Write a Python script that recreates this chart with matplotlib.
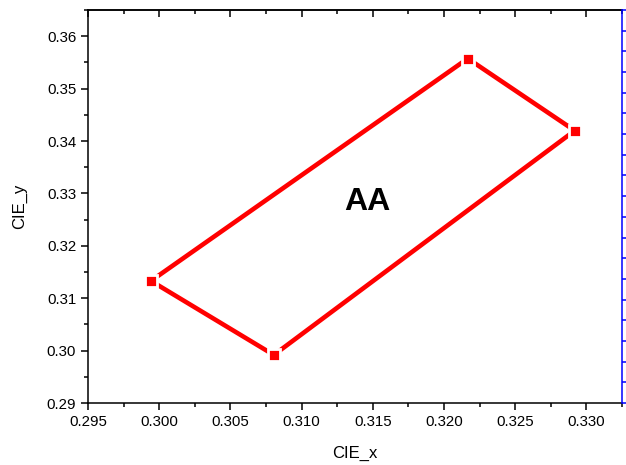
import matplotlib
matplotlib.use("Agg")
import matplotlib.pyplot as plt
from matplotlib.ticker import MultipleLocator, NullFormatter

plt.rcParams["font.family"] = ["Liberation Sans", "DejaVu Sans"]

# corner points of the colour gamut, closed polygon
cie_x = [0.29942, 0.30805, 0.32918, 0.32167, 0.29942]
cie_y = [0.3133, 0.29917, 0.34198, 0.35574, 0.3133]
label = "AA"
label_pos = (0.31465, 0.3284)
right_ticks = list(range(20))

fig = plt.figure(figsize=(6.26, 4.65), dpi=100)
ax = fig.add_axes([0.1406, 0.1333, 0.853, 0.8452])

ax.plot(cie_x, cie_y, color="red", lw=3.3, solid_capstyle="butt", zorder=2)
ax.plot(cie_x[:-1], cie_y[:-1], ls="none", marker="s", ms=9, mfc="red",
        mec="white", mew=2, zorder=3)
ax.text(*label_pos, label, fontsize=23, fontweight="bold", ha="center",
        va="center")

ax.set_xlim(0.295, 0.3325)
ax.set_ylim(0.29, 0.365)
ax.xaxis.set_major_locator(MultipleLocator(0.005))
ax.xaxis.set_minor_locator(MultipleLocator(0.0025))
ax.yaxis.set_major_locator(MultipleLocator(0.01))
ax.yaxis.set_minor_locator(MultipleLocator(0.005))
ax.xaxis.set_major_formatter(plt.FormatStrFormatter("%.3f"))
ax.yaxis.set_major_formatter(plt.FormatStrFormatter("%.2f"))
ax.tick_params(which="major", direction="out", length=5, width=1.1,
               labelsize=10.8)
ax.tick_params(which="minor", direction="out", length=3, width=1.1)
ax.set_xlabel("CIE_x", fontsize=12, labelpad=12)
ax.set_ylabel("CIE_y", fontsize=12, labelpad=14)
for s in ax.spines.values():
    s.set_linewidth(1.1)
ax.spines["right"].set_visible(False)

top = ax.secondary_xaxis("top")
top.xaxis.set_major_locator(MultipleLocator(0.005))
top.xaxis.set_minor_locator(MultipleLocator(0.0025))
top.xaxis.set_major_formatter(NullFormatter())
top.tick_params(which="major", direction="in", length=5, width=1.1)
top.tick_params(which="minor", direction="in", length=3, width=1.1)
top.spines["top"].set_linewidth(1.1)

ax2 = ax.twinx()
ax2.set_ylim(right_ticks[0], right_ticks[-1])
ax2.set_yticks(right_ticks)
ax2.yaxis.set_major_formatter(NullFormatter())
ax2.tick_params(axis="y", colors="blue", direction="out", length=3, width=1.1)
for name, s in ax2.spines.items():
    s.set_visible(name == "right")
ax2.spines["right"].set_color("blue")
ax2.spines["right"].set_linewidth(1.1)

fig.savefig("out.png", dpi=100)
